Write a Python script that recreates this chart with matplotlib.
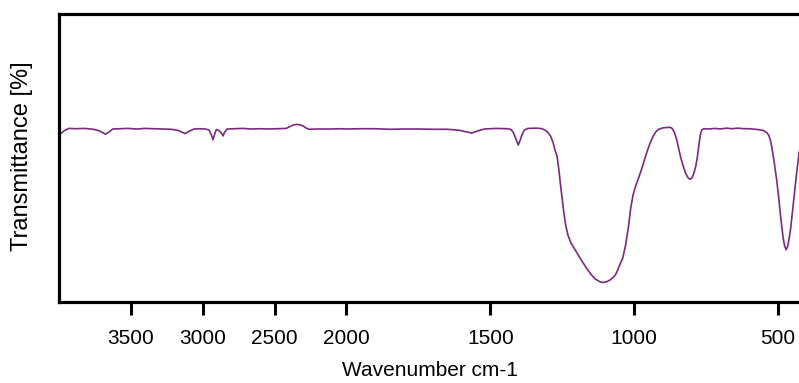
import numpy as np
import matplotlib
matplotlib.use("Agg")
import matplotlib.pyplot as plt

wavenumber = [4000, 3990, 3960, 3930, 3880, 3820, 3760, 3720, 3690, 3675, 3650, 3625,
              3580, 3520, 3460, 3400, 3340, 3280, 3220, 3170, 3140, 3120, 3095, 3060,
              3020, 2980, 2955, 2940, 2928, 2918, 2905, 2890, 2870, 2858, 2848, 2830,
              2780, 2720, 2660, 2600, 2540, 2480, 2420, 2390, 2370, 2345, 2320, 2300,
              2280, 2260, 2200, 2100, 2050, 2000, 1950, 1900, 1850, 1800, 1750, 1700,
              1650, 1610, 1580, 1565, 1545, 1520, 1480, 1440, 1428, 1420, 1412, 1403,
              1396, 1390, 1382, 1370, 1340, 1320, 1310, 1300, 1290, 1282, 1275, 1268,
              1262, 1256, 1250, 1244, 1238, 1230, 1220, 1208, 1195, 1180, 1165, 1150,
              1135, 1120, 1108, 1095, 1082, 1067, 1060, 1050, 1040, 1030, 1020, 1012,
              1004, 996, 986, 975, 965, 955, 945, 935, 925, 915, 900, 876, 868, 860,
              852, 845, 838, 830, 822, 814, 806, 799, 792, 786, 780, 775, 770, 765,
              758, 740, 720, 700, 680, 660, 640, 620, 600, 570, 551, 540, 532, 525,
              518, 512, 505, 498, 492, 487, 482, 477, 472, 467, 462, 456, 450, 443,
              435, 427, 418, 410, 400]
transmittance = [57.5, 58.3, 59.5, 60.2, 60.1, 60.2, 59.9, 59.4, 58.6, 58.2, 59.0, 60.0,
                 60.1, 60.2, 60.0, 60.2, 60.1, 60.0, 59.9, 59.5, 58.8, 58.4, 59.2, 60.0,
                 60.1, 60.0, 59.6, 58.0, 56.3, 58.0, 59.8, 59.6, 58.6, 57.6, 58.8, 60.0,
                 60.1, 60.2, 60.0, 60.1, 60.0, 60.1, 60.2, 60.9, 61.4, 61.6, 61.4, 61.0,
                 60.3, 59.9, 60.0, 60.0, 60.1, 60.0, 60.1, 60.1, 59.9, 60.0, 60.0, 59.9,
                 59.9, 59.6, 58.9, 58.6, 59.3, 60.0, 60.2, 60.1, 59.8, 58.8, 56.8, 54.4,
                 56.2, 58.0, 59.6, 60.2, 60.3, 60.1, 59.6, 58.8, 57.4, 55.3, 52.6, 50.5,
                 46.0, 40.5, 35.5, 30.5, 26.5, 23.0, 20.4, 18.4, 16.3, 13.8, 11.5, 9.4,
                 7.8, 6.9, 6.6, 6.9, 7.6, 9.0, 10.3, 12.8, 15.0, 19.5, 26.0, 32.5,
                 37.0, 39.8, 42.6, 45.8, 49.0, 52.2, 55.0, 57.3, 59.0, 59.9, 60.4, 60.6,
                 60.2, 58.8, 56.2, 53.0, 50.0, 47.2, 44.8, 43.2, 42.5, 43.0, 44.8, 47.0,
                 50.5, 54.5, 58.0, 59.7, 60.1, 60.0, 60.2, 60.0, 60.3, 60.1, 60.3, 60.1,
                 60.1, 59.8, 59.5, 58.8, 57.8, 55.5, 51.5, 47.5, 42.5, 36.5, 30.5, 26.0,
                 22.0, 19.3, 18.0, 19.0, 21.5, 25.5, 31.0, 37.5, 45.0, 51.5, 56.0, 58.5,
                 59.5]
tick_values = [3500, 3000, 2500, 2000, 1500, 1000, 500]

plt.rcParams['font.family'] = ['Liberation Sans', 'DejaVu Sans']

W, H = 799, 383
fig = plt.figure(figsize=(W / 100, H / 100), dpi=100)
left, right, top, bottom = 58.8, 806.8, 14.0, 301.5
ax = fig.add_axes([left / W, 1 - bottom / H, (right - left) / W, (bottom - top) / H])


def fwd(x):
    x = np.asarray(x, dtype=float)
    return np.where(x > 2000, 2000 + (x - 2000) / 2.0, x)


def inv(y):
    y = np.asarray(y, dtype=float)
    return np.where(y > 2000, 2000 + (y - 2000) * 2.0, y)


ax.set_xscale('function', functions=(fwd, inv))
ax.plot(wavenumber, transmittance, color='#7B2A7E', lw=1.2)
ax.set_xlim(4000, 400)
ax.set_ylim(0, 100)
ax.set_xticks(tick_values)
ax.set_xticklabels([str(v) for v in tick_values])
ax.minorticks_off()
ax.set_yticks([])
for s in ['left', 'top', 'bottom', 'right']:
    ax.spines[s].set_linewidth(2.3)
ax.tick_params(axis='x', direction='out', length=9.5, width=2.2, labelsize=15, pad=10.5)
ax.set_xlabel('Wavenumber cm-1', fontsize=15, va='center')
ax.xaxis.set_label_coords((430 - left) / (right - left), (bottom - 370) / (bottom - top))
ax.set_ylabel('Transmittance [%]', fontsize=17, va='center', ha='center')
ax.yaxis.set_label_coords((22 - left) / (right - left), (bottom - 156.5) / (bottom - top))

fig.savefig('out.png', dpi=100)
